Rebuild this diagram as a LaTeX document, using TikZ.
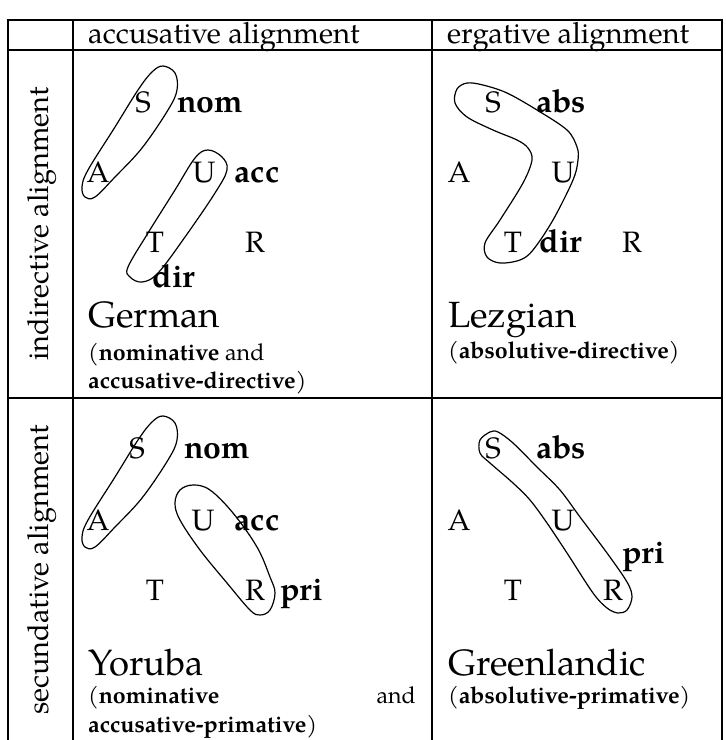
\documentclass[tikz,border=0pt]{standalone}
\usepackage{fontspec}
\setmainfont{texgyrepagella}[Extension=.otf,UprightFont=*-regular,BoldFont=*-bold,ItalicFont=*-italic,BoldItalicFont=*-bolditalic]
\begin{document}
\begin{tikzpicture}[x=1pt,y=-1pt,
  lbl/.style={anchor=base,inner sep=0pt,font=\fontsize{29.5}{32}\selectfont},
  case/.style={anchor=base,inner sep=0pt,font=\fontsize{32}{34}\selectfont\bfseries},
  lang/.style={anchor=base west,inner sep=0pt,font=\fontsize{36.5}{40}\selectfont},
  note/.style={anchor=base west,inner sep=0pt,font=\fontsize{23.2}{25}\selectfont},
  head/.style={anchor=base west,inner sep=0pt,font=\fontsize{29.3}{32}\selectfont},
  rowlbl/.style={rotate=90,inner sep=0pt,font=\fontsize{29}{32}\selectfont},
  grid/.style={line width=2pt},
  blob/.style={line width=1.2pt}]
\useasboundingbox (0,0) rectangle (726,740);
% table
\draw[grid] (8,740) -- (8,20) -- (722,20) -- (722,740);
\draw[grid] (8,50) -- (722,50);
\draw[grid] (8,398) -- (722,398);
\draw[grid] (73,20) -- (73,740);
\draw[grid] (432,20) -- (432,740);
% headers
\node[head] (h1) at (88,43) {accusative alignment};
\node[head] (h2) at (447,43) {ergative alignment};
\node[rowlbl] (r1) at (42,224) {indirective alignment};
\node[rowlbl] (r2) at (42,570) {secundative alignment};
% cell 1: German
\node[lbl] (S1) at (143,112) {S};
\node[case] (nom1) at (210,112) {nom};
\node[lbl] (A1) at (98,182) {A};
\node[lbl] (U1) at (204,182) {U};
\node[case] (acc1) at (257,182) {acc};
\node[lbl] (T1) at (155,252) {T};
\node[lbl] (R1) at (255,252) {R};
\node[case] (dir1) at (174,287) {dir};
\node[lang] (L1) at (88,327) {German};
\node[note] (n1a) at (88,360) {(\textbf{nominative} and};
\node[note] (n1b) at (88,388) {\textbf{accusative-directive})};
\draw[blob] plot[smooth cycle,tension=0.6] coordinates {
 (163,66) (175,73) (177,90) (168,110) (142,148) (115,177) (95,197) (85,197)
 (82,187) (88,170) (115,127) (138,90) (152,72)};
\draw[blob] plot[smooth cycle,tension=0.6] coordinates {
 (208,150) (222,157) (227,170) (215,193) (185,237) (158,273) (142,282) (130,277)
 (128,267) (148,233) (175,190) (195,158)};
% cell 2: Lezgian
\node[lbl] (S2) at (493,112) {S};
\node[case] (abs2) at (561,112) {abs};
\node[lbl] (A2) at (459,182) {A};
\node[lbl] (U2) at (563,182) {U};
\node[lbl] (T2) at (513,252) {T};
\node[case] (dir2) at (561,252) {dir};
\node[lbl] (R2) at (632,252) {R};
\node[lang] (L2) at (448,327) {Lezgian};
\node[note] (n2) at (448,358) {(\textbf{absolutive-directive})};
\draw[blob] plot[smooth cycle,tension=0.55] coordinates {
 (457,89) (467,83) (483,85) (507,93) (537,110) (567,130) (577,147) (578,160)
 (573,180) (553,220) (533,250) (520,260) (500,263) (487,257) (485,243) (500,220)
 (523,183) (532,160) (528,148) (517,140) (493,130) (467,117) (455,103)};
% cell 3: Yoruba
\node[lbl] (S3) at (137,458) {S};
\node[case] (nom3) at (217,458) {nom};
\node[lbl] (A3) at (98,530) {A};
\node[lbl] (U3) at (203,530) {U};
\node[case] (acc3) at (257,530) {acc};
\node[lbl] (T3) at (155,600) {T};
\node[lbl] (R3) at (255,600) {R};
\node[case] (pri3) at (302,600) {pri};
\node[lang] (L3) at (88,675) {Yoruba};
\node[note] (n3a) at (88,703) {(\textbf{nominative}};
\node[note,anchor=base east] (n3c) at (416,703) {and};
\node[note] (n3b) at (88,732) {\textbf{accusative-primative})};
\draw[blob] plot[smooth cycle,tension=0.6] coordinates {
 (163,416) (175,423) (177,440) (168,460) (142,498) (115,527) (95,547) (85,547)
 (82,537) (88,520) (115,477) (138,440) (152,422)};
\draw[blob] plot[smooth cycle,tension=0.6] coordinates {
 (180,490) (193,485) (210,490) (233,513) (257,547) (270,577) (275,593) (270,610)
 (260,615) (250,610) (227,583) (200,550) (180,520) (175,503)};
% cell 4: Greenlandic
\node[lbl] (S4) at (493,458) {S};
\node[case] (abs4) at (561,458) {abs};
\node[lbl] (A4) at (459,530) {A};
\node[lbl] (U4) at (563,530) {U};
\node[case] (pri4) at (644,563) {pri};
\node[lbl] (T4) at (513,600) {T};
\node[lbl] (R4) at (613,600) {R};
\node[lang] (L4) at (448,675) {Greenlandic};
\node[note] (n4) at (448,703) {(\textbf{absolutive-primative})};
\draw[blob] plot[smooth cycle,tension=0.55] coordinates {
 (490,432) (498,432) (513,443) (537,467) (560,490) (580,517) (607,553) (627,582)
 (632,597) (627,610) (618,613) (607,608) (593,593) (567,553) (547,523) (530,500)
 (513,483) (490,463) (480,453) (480,440)};
\end{tikzpicture}
\end{document}
